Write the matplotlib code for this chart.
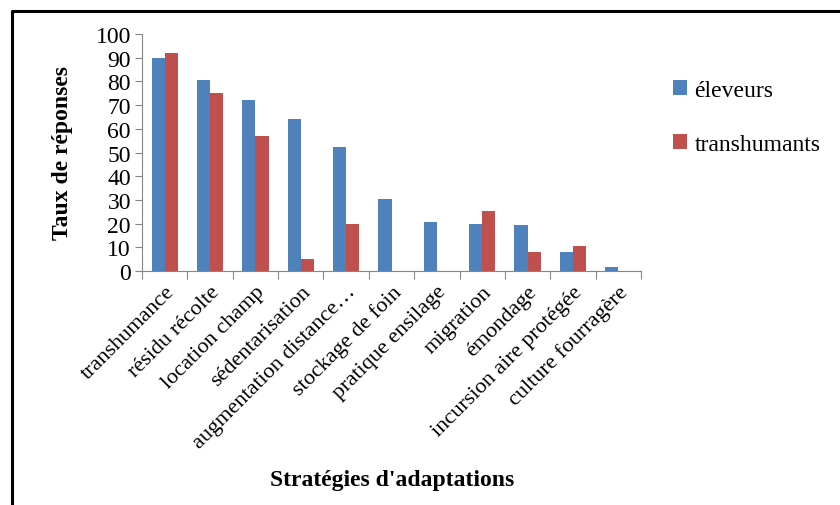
import matplotlib.pyplot as plt
from matplotlib.lines import Line2D
import numpy as np


plt.rcParams['font.family'] = ['Liberation Serif', 'DejaVu Serif']

categories = ['transhumance', 'résidu récolte', 'location champ', 'sédentarisation',
              'augmentation distance…', 'stockage de foin', 'pratique ensilage',
              'migration', 'émondage', 'incursion aire protégée', 'culture fourragère']
eleveurs = [90, 80.5, 72, 64, 52.5, 30.5, 20.5, 20, 19.5, 8, 1.5]
transhumants = [92, 75, 57, 5, 20, 0, 0, 25.5, 8, 10.5, 0]

blue = '#4F81BD'
red = '#C0504D'
grey = '#868686'

fig = plt.figure(figsize=(8.4, 5.06), dpi=100)
ax = fig.add_axes([142 / 840, 1 - 272 / 506, (641 - 142) / 840, (272 - 35) / 506])

x = np.arange(len(categories))
w = 0.29
ax.bar(x - w / 2, eleveurs, w, color=blue, label='éleveurs')
ax.bar(x + w / 2, transhumants, w, color=red, label='transhumants')

ax.set_xlim(-0.5, len(categories) - 0.5)
ax.set_ylim(0, 100)
ax.set_yticks(range(0, 101, 10))
ax.tick_params(axis='y', labelsize=17, length=5, color=grey, pad=3)

# ticks between categories, labels at centres
ax.set_xticks(np.arange(-0.5, len(categories)), minor=False)
ax.set_xticklabels([])
ax.set_xticks(x, minor=True)
ax.set_xticklabels(categories, minor=True, rotation=45, ha='right',
                   rotation_mode='anchor', fontsize=16)
ax.tick_params(axis='x', which='major', length=6, color=grey)
ax.tick_params(axis='x', which='minor', length=0, pad=8)

for side in ['top', 'right']:
    ax.spines[side].set_visible(False)
for side in ['left', 'bottom']:
    ax.spines[side].set_color(grey)

ax.set_ylabel('Taux de réponses', fontsize=17, fontweight='bold', labelpad=16)
fig.text(392 / 840, 1 - 481 / 506, "Stratégies d'adaptations", fontsize=17,
         fontweight='bold', ha='center', va='center')

fig.legend(loc='upper left', bbox_to_anchor=(652 / 840, 1 - 60 / 506), frameon=False,
           fontsize=17, handlelength=0.6, handleheight=0.6, handletextpad=0.3,
           labelspacing=1.4)

# frame lines at left and top
bx = 11.5 / 840
by = 1 - 11.5 / 506
fig.add_artist(Line2D([bx, bx, 1], [0, by, by], transform=fig.transFigure,
                      color='black', linewidth=2.2))

fig.savefig('out.png', dpi=100)
